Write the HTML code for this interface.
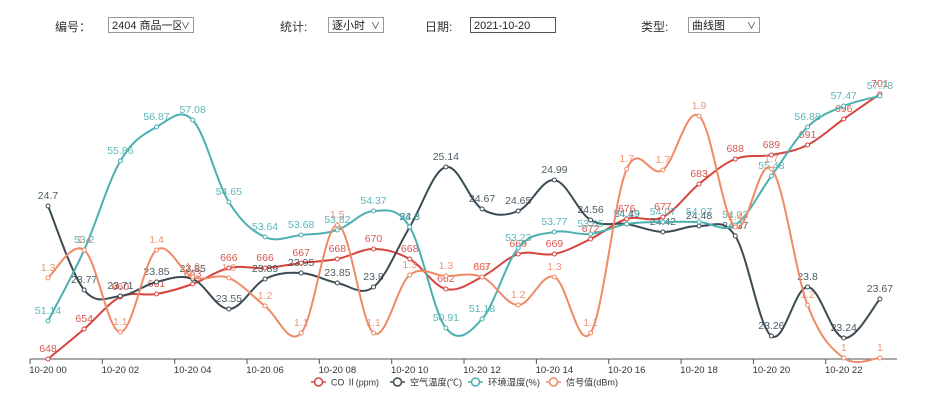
<!DOCTYPE html>
<html><head><meta charset="utf-8"><style>
body{margin:0;width:939px;height:400px;background:#fff;overflow:hidden;font-family:"Liberation Sans","Noto Sans CJK SC",sans-serif;}
.l{position:absolute;font-size:12px;color:#333;top:18px}
.s{position:absolute;top:17px;height:16px;border:1px solid #999;font-size:11px;line-height:16px;padding-left:3px;box-sizing:border-box;background:#fff;color:#222;overflow:hidden;white-space:nowrap}
.s span{position:absolute;right:3px;top:0;font-size:9px;background:#fff}
</style></head><body>
<div class="l" style="left:55px">编号：</div>
<div class="s" style="left:108px;width:86px">2404 商品一区4<span>∨</span></div>
<div class="l" style="left:280px">统计:</div>
<div class="s" style="left:328px;width:56px">逐小时<span>∨</span></div>
<div class="l" style="left:425px">日期:</div>
<div class="s" style="left:470px;width:86px;border:1px solid #555">2021-10-20</div>
<div class="l" style="left:641px">类型:</div>
<div class="s" style="left:688px;width:72px">曲线图<span>∨</span></div>
<svg id="c" width="939" height="400" style="position:absolute;left:0;top:0"></svg>
<script>
const xs=i=>48+36.17*i;
const S=[
{c:"#d6453d",y:[359,329,297,294,284,268,268,263,259,249,259,289,277,254,254,239,219,217,184,159,155,145,119,94],v:[648,654,660,661,663,666,666,667,668,670,668,662,667,669,669,672,676,677,683,688,689,691,696,701]},
{c:"#3a4b53",y:[206,290,296,282,279,309,279,273,283,287,227,167,209,211,180,220,224,232,226,236,336,287,338,299],v:[24.7,23.77,23.71,23.85,23.85,23.55,23.89,23.95,23.85,23.8,24.3,25.14,24.67,24.65,24.99,24.56,24.49,24.42,24.48,24.37,23.26,23.8,23.24,23.67]},
{c:"#4cafb0",y:[321,250,161,127,120,202,237,235,230,211,227,328,319,248,232,234,224,222,222,225,176,127,106,96],v:[51.14,53.2,55.86,56.87,57.08,54.65,53.64,53.68,53.82,54.37,53.8,50.91,51.18,53.23,53.77,53.65,54.19,54.07,54.07,54.03,55.48,56.88,57.47,57.78]},
{c:"#ef8a66",y:[278,250,332,250,277,278,306,333,225,333,275,276,277,305,277,333,169,170,116,227,169,305,358,358],v:[1.3,1.4,1.1,1.4,1.3,1.3,1.2,1.1,1.5,1.1,1.3,1.3,1.3,1.2,1.3,1.1,1.7,1.7,1.9,1.4,1.7,1.2,1,1]}];
let h='<line x1="30" y1="359" x2="897" y2="359" stroke="#555"/>';
for(let k=0;k<12;k++){let x=30+72.34*k;h+=`<line x1="${x}" y1="359" x2="${x}" y2="364" stroke="#555"/>`;}
for(let k=0;k<12;k++){h+=`<text x="${xs(2*k)}" y="373" font-size="9.5" fill="#333" text-anchor="middle">10-20 ${String(2*k).padStart(2,'0')}</text>`;}
S.forEach(s=>{const p=s.y.map((y,i)=>[xs(i),y]);let d=`M${p[0][0]},${p[0][1]}`;const t=0.35;
for(let i=0;i<p.length-1;i++){const a=p[Math.max(i-1,0)],b=p[i],c=p[i+1],e=p[Math.min(i+2,p.length-1)];
d+=` C${b[0]+(c[0]-a[0])*t/2},${b[1]+(c[1]-a[1])*t/2} ${c[0]-(e[0]-b[0])*t/2},${c[1]-(e[1]-b[1])*t/2} ${c[0]},${c[1]}`;}
h+=`<path d="${d}" fill="none" stroke="${s.c}" stroke-width="2"/>`;
p.forEach((q,i)=>{h+=`<circle cx="${q[0]}" cy="${q[1]}" r="2" fill="#fff" stroke="${s.c}"/><text x="${q[0]}" y="${q[1]-7}" font-size="10.5" fill="${s.c}" text-anchor="middle" opacity="0.9">${s.v[i]}</text>`;});});
const L=[[311,"CO Ⅱ(ppm)"],[390,"空气温度(℃)"],[468,"环境湿度(%)"],[546,"信号值(dBm)"]];
L.forEach((l,i)=>{const c=S[i].c;h+=`<line x1="${l[0]}" y1="382" x2="${l[0]+15}" y2="382" stroke="${c}" stroke-width="1.5"/><circle cx="${l[0]+7.5}" cy="382" r="4" fill="#fff" stroke="${c}" stroke-width="1.5"/><text x="${l[0]+20}" y="385.5" font-size="9" fill="#333" textLength="${i==0?48:52}" lengthAdjust="spacingAndGlyphs">${l[1]}</text>`;});
document.getElementById('c').innerHTML=h;
</script>
</body></html>
